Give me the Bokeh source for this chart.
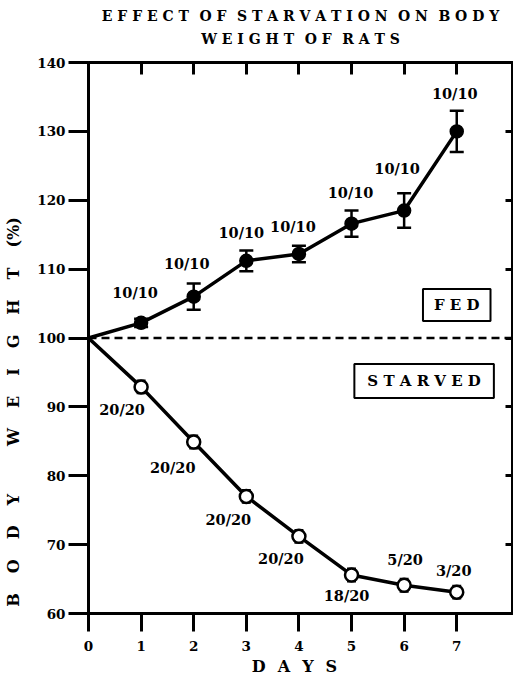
from bokeh.plotting import figure
from bokeh.models import (Range1d, LinearAxis, FixedTicker, ColumnDataSource,
                          Whisker, TeeHead, Span, Label, Title)
from bokeh.core.properties import value
from bokeh.embed import file_html
from bokeh.resources import INLINE

# ---------------- data ----------------
days = [0, 1, 2, 3, 4, 5, 6, 7]
fed_weight = [100.0, 102.2, 106.0, 111.2, 112.2, 116.6, 118.5, 130.0]
fed_err = [0.0, 0.6, 1.9, 1.5, 1.2, 1.9, 2.5, 3.0]
fed_counts = ["", "10/10", "10/10", "10/10", "10/10", "10/10", "10/10", "10/10"]

starved_weight = [100.0, 92.9, 84.9, 77.0, 71.2, 65.6, 64.1, 63.1]
starved_err = [0.0, 0.9, 0.9, 0.9, 0.9, 0.9, 0.9, 0.9]
starved_counts = ["", "20/20", "20/20", "20/20", "20/20", "18/20", "5/20", "3/20"]

x_ticks = [0, 1, 2, 3, 4, 5, 6, 7]
y_ticks = [60, 70, 80, 90, 100, 110, 120, 130, 140]
baseline = 100

title_lines = ["EFFECT OF STARVATION ON BODY", "WEIGHT OF RATS"]
x_title = "DAYS"
y_title = ["BODY", "WEIGHT", "(%)"]
box_fed = "FED"
box_starved = "STARVED"

# ---------------- styling helpers ----------------
FONT = "DejaVu Serif"

def spaced(word, gap):
    return gap.join(list(word))

def spaced_line(line, gap, word_gap):
    return word_gap.join(spaced(w, gap) for w in line.split())

# label placement (screen pixel offsets from each point)
fed_dx = [0, -6, -7, -5, -6, -1, -7, -2]
fed_dy = [0, -30, -33, -28, -27, -31, -42, -38]
st_dx = [0, -19, -21, -18, -18, -5, 1, -3]
st_dy = [0, 23, 25, 23, 22, 21, -26, -22]

p = figure(width=513, height=678, output_backend="svg", toolbar_location=None,
           title=None,
           x_range=Range1d(0, 8.06), y_range=Range1d(60, 140),
           min_border_left=88, min_border_right=1, min_border_top=62,
           min_border_bottom=0)
p.grid.visible = False
p.outline_line_color = "black"
p.outline_line_width = 3
p.background_fill_color = "white"
p.border_fill_color = "white"

# left axis
ya = p.yaxis[0]
ya.ticker = FixedTicker(ticks=y_ticks)
ya.major_tick_out = 20
ya.major_tick_in = 0
ya.minor_tick_out = 0
ya.minor_tick_in = 0
ya.axis_line_width = 3
ya.major_tick_line_width = 3
ya.major_label_standoff = 3
ya.major_label_text_font = FONT
ya.major_label_text_font_style = "bold"
ya.major_label_text_font_size = "13.5px"
ya.major_label_text_color = "black"
ylab = (spaced(y_title[0], "\u2003\u2005") + "\u2003\u2003\u2003" +
        spaced(y_title[1], "\u2003\u2005") + "\u2003\u2005" + y_title[2])
ya.axis_label = ylab + "\u2003" * 9 + "\u2005"
ya.axis_label_text_font = FONT
ya.axis_label_text_font_style = "bold"
ya.axis_label_text_font_size = "16px"
ya.axis_label_text_color = "black"
ya.axis_label_standoff = 11

# bottom axis
xa = p.xaxis[0]
xa.ticker = FixedTicker(ticks=x_ticks)
xa.major_tick_out = 18
xa.major_tick_in = 0
xa.minor_tick_out = 0
xa.minor_tick_in = 0
xa.axis_line_width = 3
xa.major_tick_line_width = 3
xa.major_label_standoff = 9
xa.major_label_text_font = FONT
xa.major_label_text_font_style = "bold"
xa.major_label_text_font_size = "13.5px"
xa.major_label_text_color = "black"
xa.axis_label = spaced(x_title, "\u2002\u2005") + "\u2002\u2005"
xa.axis_label_text_font = FONT
xa.axis_label_text_font_style = "bold"
xa.axis_label_text_font_size = "16px"
xa.axis_label_text_color = "black"
xa.axis_label_standoff = 3

# top and right axes: inward ticks only (top one keeps a small gap below the title)
top = LinearAxis(ticker=FixedTicker(ticks=x_ticks), major_tick_in=12, major_tick_out=0,
                 minor_tick_in=0, minor_tick_out=0, axis_line_width=3,
                 major_tick_line_width=3, major_label_standoff=12,
                 major_label_text_font_size="2px", major_label_text_color="white")
p.add_layout(top, "above")
right = LinearAxis(ticker=FixedTicker(ticks=y_ticks), major_tick_in=7, major_tick_out=0,
                   minor_tick_in=0, minor_tick_out=0, axis_line_width=3,
                   major_tick_line_width=3, major_label_standoff=0,
                   major_label_text_font_size="0px", major_label_text_alpha=0)
p.add_layout(right, "right")

# title: second line nearest the plot, first line above it
p.add_layout(Title(text=spaced_line(title_lines[1], " ", "\u2002\u2005"), align="center",
                   standoff=0, text_font=FONT, text_font_style="bold",
                   text_font_size="14px", text_color="black"), "above")
p.add_layout(Title(text=spaced_line(title_lines[0], " ", "\u2002\u2005"), align="center",
                   standoff=10, text_font=FONT, text_font_style="bold",
                   text_font_size="14px", text_color="black"), "above")

# dashed 100% line
p.add_layout(Span(location=baseline, dimension="width", line_color="black",
                  line_width=2.5, line_dash="8 5"))

# error bars
fsrc = ColumnDataSource(dict(
    x=days[1:],
    upper=[w + e for w, e in zip(fed_weight[1:], fed_err[1:])],
    lower=[w - e for w, e in zip(fed_weight[1:], fed_err[1:])],
))
ssrc = ColumnDataSource(dict(
    x=days[1:],
    upper=[w + e for w, e in zip(starved_weight[1:], starved_err[1:])],
    lower=[w - e for w, e in zip(starved_weight[1:], starved_err[1:])],
))
wf = Whisker(source=fsrc, base="x", upper="upper", lower="lower",
             line_color="black", line_width=2.5, level="underlay",
             upper_head=TeeHead(size=14, line_width=2.5, line_color="black"),
             lower_head=TeeHead(size=14, line_width=2.5, line_color="black"))
ws = Whisker(source=ssrc, base="x", upper="upper", lower="lower",
             line_color="black", line_width=2.5, level="underlay",
             upper_head=TeeHead(size=9, line_width=2.5, line_color="black"),
             lower_head=TeeHead(size=9, line_width=2.5, line_color="black"))
p.add_layout(wf)
p.add_layout(ws)

# lines and markers
p.line(days, fed_weight, line_color="black", line_width=3.5)
p.line(days, starved_weight, line_color="black", line_width=3.5)
p.scatter(days[1:], fed_weight[1:], marker="circle", size=13,
          fill_color="black", line_color="black", line_width=1.5)
p.scatter(days[1:], starved_weight[1:], marker="circle", size=13,
          fill_color="white", line_color="black", line_width=2.5)

# count labels
tf = ColumnDataSource(dict(x=days[1:], y=fed_weight[1:], t=fed_counts[1:],
                           dx=fed_dx[1:], dy=fed_dy[1:]))
ts = ColumnDataSource(dict(x=days[1:], y=starved_weight[1:], t=starved_counts[1:],
                           dx=st_dx[1:], dy=st_dy[1:]))
for src in (tf, ts):
    p.text(x="x", y="y", text="t", x_offset="dx", y_offset="dy", source=src,
           text_align="center", text_baseline="middle", text_color="black",
           text_font=value(FONT), text_font_style="bold", text_font_size="14.5px")

# boxes
p.add_layout(Label(x=7.0, y=104.8, text=spaced(box_fed, " "), text_align="center",
                   text_baseline="middle", text_font=FONT, text_font_style="bold",
                   text_font_size="15px", text_color="black",
                   border_line_color="black", border_line_width=2,
                   background_fill_color="white",
                   padding=dict(left=11, right=11, top=7, bottom=7)))
p.add_layout(Label(x=6.38, y=93.76, text=spaced(box_starved, " "), text_align="center",
                   text_baseline="middle", text_font=FONT, text_font_style="bold",
                   text_font_size="15px", text_color="black",
                   border_line_color="black", border_line_width=2,
                   background_fill_color="white",
                   padding=dict(left=13, right=13, top=8, bottom=8)))

open("out.html", "w").write(file_html(p, INLINE))
